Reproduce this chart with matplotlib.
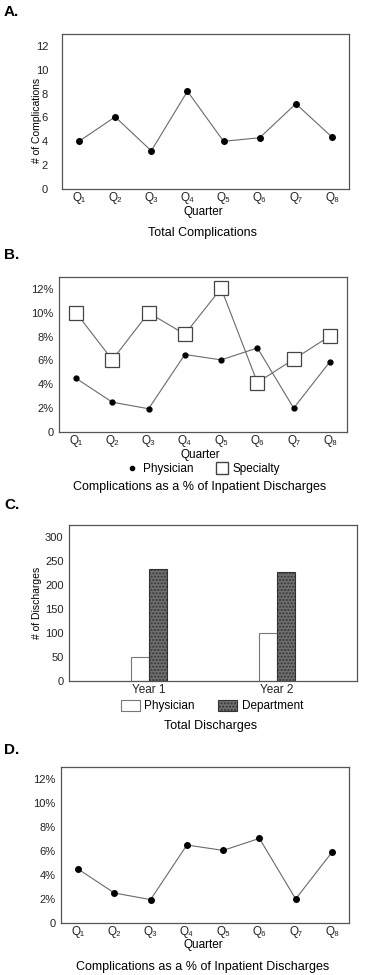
import numpy as np
import matplotlib
matplotlib.use("Agg")
import matplotlib.pyplot as plt
from matplotlib.lines import Line2D
from matplotlib.patches import Patch
from matplotlib.ticker import FuncFormatter

plt.rcParams['font.family'] = ['Liberation Sans', 'DejaVu Sans']

# data
subs = '\u2081\u2082\u2083\u2084\u2085\u2086\u2087\u2088'
quarters = ['Q' + s for s in subs]
total_compl = [4.0, 6.05, 3.2, 8.2, 4.0, 4.3, 7.15, 4.35]
phys_pct = [4.5, 2.5, 1.95, 6.5, 6.05, 7.05, 2.0, 5.9]
spec_pct = [10.0, 6.05, 10.0, 8.2, 12.05, 4.15, 6.1, 8.05]
years = ['Year 1', 'Year 2']
phys_dis = [50, 100]
dept_dis = [235, 227]
phys_pct_d = [4.5, 2.5, 1.95, 6.5, 6.05, 7.05, 2.0, 5.9]

W, H = 371, 975
fig = plt.figure(figsize=(W / 100, H / 100), dpi=100)

def fx(px):
    return px / W

def fy(px):
    return 1 - px / H

def box(l, t, r, b):
    return [fx(l), fy(b), fx(r) - fx(l), fy(t) - fy(b)]

line_col = '#6a6a6a'
spine_col = '#555555'
pct_fmt = FuncFormatter(lambda v, p: '0' if v == 0 else '%d%%' % v)

def style(ax, ypad):
    for s in ax.spines.values():
        s.set_color(spine_col)
        s.set_linewidth(0.9)
    ax.tick_params(length=0, labelsize=8, colors='#222222')
    ax.tick_params(axis='y', pad=ypad)
    ax.tick_params(axis='x', pad=2, labelsize=8.5)

x = np.arange(1, 9)

# A
axA = fig.add_axes(box(62, 34, 349, 189))
axA.plot(x, total_compl, color=line_col, lw=0.8, marker='o', ms=4,
         mfc='black', mec='black')
axA.set_xlim(0.53, 8.47)
axA.set_ylim(0, 13)
axA.set_yticks(range(0, 13, 2))
axA.set_xticks(x)
axA.set_xticklabels(quarters)
style(axA, 10)
fig.text(fx(37), fy(120), '# of Complications', rotation=90, ha='center',
         va='center', fontsize=7.5)
fig.text(fx(203), fy(212), 'Quarter', ha='center', va='center', fontsize=8.5)
fig.text(fx(203), fy(233), 'Total Complications', ha='center', va='center',
         fontsize=9)
fig.text(fx(4), fy(12), 'A.', fontsize=11, fontweight='bold', va='center')

# B
axB = fig.add_axes(box(59, 277, 347, 432))
axB.plot(x, phys_pct, color=line_col, lw=0.8, marker='o', ms=3.5,
         mfc='black', mec='black')
axB.plot(x, spec_pct, color=line_col, lw=0.8, marker='s', ms=10,
         mfc='white', mec='#444444', mew=0.9)
axB.set_xlim(0.53, 8.47)
axB.set_ylim(0, 13)
axB.set_yticks(range(0, 13, 2))
axB.yaxis.set_major_formatter(pct_fmt)
axB.set_xticks(x)
axB.set_xticklabels(quarters)
style(axB, 4)
fig.text(fx(200), fy(455), 'Quarter', ha='center', va='center', fontsize=8.5)
hB = [Line2D([], [], ls='none', marker='o', ms=3, color='black'),
      Line2D([], [], ls='none', marker='s', ms=9, mfc='white', mec='#444444')]
fig.legend(hB, ['Physician', 'Specialty'], loc='center',
           bbox_to_anchor=(fx(203), fy(469)), ncol=2, frameon=False,
           fontsize=8.5, handlelength=1.1, handletextpad=0.4,
           columnspacing=1.8, borderpad=0)
fig.text(fx(200), fy(487), 'Complications as a % of Inpatient Discharges',
         ha='center', va='center', fontsize=9)
fig.text(fx(4), fy(255), 'B.', fontsize=11, fontweight='bold', va='center')

# C
axC = fig.add_axes(box(69, 525, 357, 681))
xc = np.arange(len(years))
bw = 0.14
axC.bar(xc - bw / 2, phys_dis, bw, color='white', edgecolor='#777777', lw=0.8)
axC.bar(xc + bw / 2, dept_dis, bw, color='#707070', edgecolor='#333333',
        lw=0.8, hatch='.....')
axC.set_xlim(-0.625, 1.625)
axC.set_ylim(0, 326)
axC.set_yticks(range(0, 301, 50))
axC.set_xticks(xc)
axC.set_xticklabels(years)
style(axC, 4)
axC.tick_params(axis='x', pad=2, labelsize=8.5)
fig.text(fx(37), fy(603), '# of Discharges', rotation=90, ha='center',
         va='center', fontsize=7.5)
hC = [Patch(facecolor='white', edgecolor='#777777', lw=0.8),
      Patch(facecolor='#707070', edgecolor='#333333', lw=0.8, hatch='.....')]
fig.legend(hC, ['Physician', 'Department'], loc='center',
           bbox_to_anchor=(fx(212), fy(706)), ncol=2, frameon=False,
           fontsize=8.5, handlelength=1.6, handleheight=1.1,
           handletextpad=0.4, columnspacing=2.0, borderpad=0)
fig.text(fx(211), fy(726), 'Total Discharges', ha='center', va='center',
         fontsize=9)
fig.text(fx(4), fy(505), 'C.', fontsize=11, fontweight='bold', va='center')

# D
axD = fig.add_axes(box(61, 767, 349, 923))
axD.plot(x, phys_pct_d, color=line_col, lw=0.8, marker='o', ms=4,
         mfc='black', mec='black')
axD.set_xlim(0.53, 8.47)
axD.set_ylim(0, 13)
axD.set_yticks(range(0, 13, 2))
axD.yaxis.set_major_formatter(pct_fmt)
axD.set_xticks(x)
axD.set_xticklabels(quarters)
style(axD, 4)
fig.text(fx(203), fy(945), 'Quarter', ha='center', va='center', fontsize=8.5)
fig.text(fx(203), fy(967), 'Complications as a % of Inpatient Discharges',
         ha='center', va='center', fontsize=9)
fig.text(fx(4), fy(750), 'D.', fontsize=11, fontweight='bold', va='center')

fig.savefig('out.png', dpi=100)
